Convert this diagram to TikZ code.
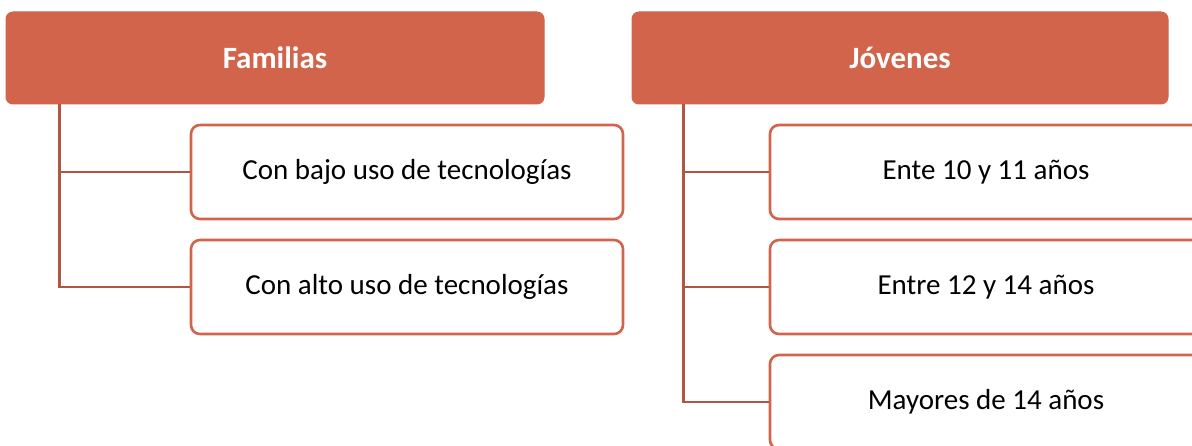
\documentclass[tikz,border=0pt]{standalone}
\usepackage{fontspec}
\setmainfont{Carlito}
\usetikzlibrary{positioning}
\definecolor{brick}{RGB}{209,100,75}
\definecolor{brickline}{RGB}{176,86,66}
\tikzset{
  head/.style={rectangle,rounded corners=7pt,fill=brick,draw=brick,line width=1pt,
    minimum width=#1,minimum height=92pt,text=white,font=\fontsize{31}{36}\selectfont\bfseries},
  leaf/.style={rectangle,rounded corners=9pt,fill=white,draw=brick,line width=2.6pt,
    minimum width=432pt,minimum height=94pt,font=\fontsize{29}{34}\selectfont},
  conn/.style={draw=brickline,line width=2.6pt},
}
\begin{document}
\begin{tikzpicture}[x=1pt,y=-1pt]
\useasboundingbox (0,0) rectangle (1192,446);
\clip (0,0) rectangle (1192,446);

\node[head=538pt] (fam) at (275,58) {Familias};
\node[head=536pt] (jov) at (900,58) {Jóvenes};

\node[leaf] (fam1) at (407,172) {Con bajo uso de tecnologías};
\node[leaf] (fam2) at (407,287) {Con alto uso de tecnologías};

\node[leaf] (jov1) at (986,172) {Ente 10 y 11 años};
\node[leaf] (jov2) at (986,287) {Entre 12 y 14 años};
\node[leaf] (jov3) at (986,402) {Mayores de 14 años};

\draw[conn] ([xshift=54pt]fam.south west) |- (fam2.west);
\draw[conn] ([xshift=54pt]fam.south west |- fam1.west) -- (fam1.west);

\draw[conn] ([xshift=52pt]jov.south west) |- (jov3.west);
\draw[conn] ([xshift=52pt]jov.south west |- jov1.west) -- (jov1.west);
\draw[conn] ([xshift=52pt]jov.south west |- jov2.west) -- (jov2.west);

\end{tikzpicture}
\end{document}
